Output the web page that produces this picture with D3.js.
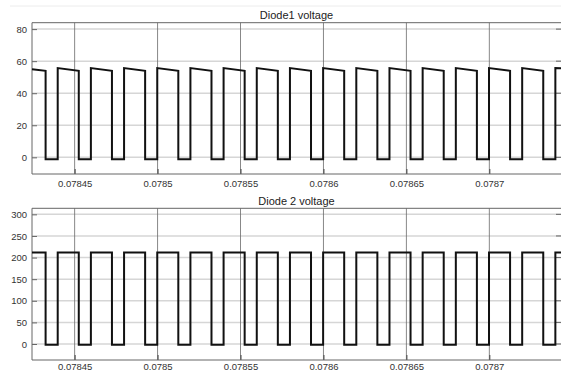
<!DOCTYPE html>
<html>
<head>
<meta charset="utf-8">
<script src="https://cdn.jsdelivr.net/npm/d3@7"></script>
<style>
html,body{margin:0;padding:0;background:#fff;}
svg{display:block;font-family:"Liberation Sans",Arial,sans-serif;}
</style>
</head>
<body>
<svg id="chart" width="561" height="372"></svg>
<script>
// ---- data ----
const xDomain = [0.0784243, 0.0787432];
const xTicks = [0.07845, 0.0785, 0.07855, 0.0786, 0.07865, 0.0787];
const xTickLabels = ["0.07845", "0.0785", "0.07855", "0.0786", "0.07865", "0.0787"];

// switching edges (s)
const fallTimes = [0.0784325, 0.0784525, 0.0784725, 0.0784925, 0.0785125, 0.0785325, 0.0785525, 0.0785725,
                   0.0785925, 0.0786125, 0.0786325, 0.0786525, 0.0786725, 0.0786925, 0.0787125, 0.0787325];
const riseTimes = [0.0784398, 0.0784598, 0.0784798, 0.0784998, 0.0785198, 0.0785398, 0.0785598, 0.0785798,
                   0.0785998, 0.0786198, 0.0786398, 0.0786598, 0.0786798, 0.0786998, 0.0787198, 0.0787398];

// Diode 1 levels: [value at left edge, value just after turn-off (rise), value just before turn-on (fall), low level, value at right edge]
const diode1Levels = [55.0, 55.7, 54.0, -1.2, 55.6];
const diode1YDomain = [-10.4, 84];
const diode1YTicks = [0, 20, 40, 60, 80];

// Diode 2 levels
const diode2Levels = [212, 212, 212, -1.5, 212];
const diode2YDomain = [-37, 314];
const diode2YTicks = [0, 50, 100, 150, 200, 250, 300];

const titles = ["Diode1 voltage", "Diode 2 voltage"];

// ---- layout ----
const svg = d3.select("#chart");
const left = 32, right = 561;
const panels = [
  {top: 22.7, bottom: 174, levels: diode1Levels, yDomain: diode1YDomain, yTicks: diode1YTicks, title: titles[0], titleY: 19, xLabelY: 187},
  {top: 208.3, bottom: 360, levels: diode2Levels, yDomain: diode2YDomain, yTicks: diode2YTicks, title: titles[1], titleY: 205, xLabelY: 370.3}
];

// faint figure line at top
svg.append("line").attr("x1", 10).attr("x2", 561).attr("y1", 6).attr("y2", 6)
   .attr("stroke", "#ececec").attr("stroke-width", 1);

const x = d3.scaleLinear().domain(xDomain).range([left, right]);

function buildPoints(levels) {
  const [vStart, vPeak, vSag, vLow, vEnd] = levels;
  const pts = [[xDomain[0], vStart]];
  for (let i = 0; i < fallTimes.length; i++) {
    pts.push([fallTimes[i], vSag]);
    pts.push([fallTimes[i], vLow]);
    pts.push([riseTimes[i], vLow]);
    pts.push([riseTimes[i], vPeak]);
  }
  pts.push([xDomain[1], vEnd]);
  return pts;
}

panels.forEach(p => {
  const y = d3.scaleLinear().domain(p.yDomain).range([p.bottom, p.top]);
  const g = svg.append("g");

  g.append("rect").attr("x", left).attr("y", p.top).attr("width", right - left).attr("height", p.bottom - p.top)
    .attr("fill", "#fff");

  // horizontal grid
  g.selectAll("line.hg").data(p.yTicks).join("line").attr("class", "hg")
    .attr("x1", left).attr("x2", right)
    .attr("y1", d => y(d)).attr("y2", d => y(d))
    .attr("stroke", "#d6d6d6").attr("stroke-width", 1.5);

  // vertical grid
  g.selectAll("line.vg").data(xTicks).join("line").attr("class", "vg")
    .attr("x1", d => x(d)).attr("x2", d => x(d))
    .attr("y1", p.top).attr("y2", p.bottom)
    .attr("stroke", "#6a6a6a").attr("stroke-width", 0.8);

  // left axis
  const ya = g.append("g").attr("transform", `translate(${left},0)`)
    .call(d3.axisLeft(y).tickValues(p.yTicks).tickSize(-5).tickPadding(5).tickFormat(d3.format("d")));
  ya.select(".domain").remove();
  ya.selectAll(".tick line").attr("stroke", "#666").attr("stroke-width", 1);
  ya.selectAll(".tick text").attr("fill", "#333").style("font-size", "9.5px")
    .style("font-family", '"Liberation Sans",Arial,sans-serif');

  // right-side ticks
  g.selectAll("line.rt").data(p.yTicks).join("line").attr("class", "rt")
    .attr("x1", right - 5).attr("x2", right)
    .attr("y1", d => y(d)).attr("y2", d => y(d))
    .attr("stroke", "#666").attr("stroke-width", 1);

  // bottom axis
  const xa = g.append("g").attr("transform", `translate(0,${p.bottom})`)
    .call(d3.axisBottom(x).tickValues(xTicks).tickSize(-5).tickPadding(0)
      .tickFormat((d, i) => xTickLabels[i]));
  xa.select(".domain").remove();
  xa.selectAll(".tick line").attr("stroke", "#444").attr("stroke-width", 1);
  xa.selectAll(".tick text").attr("fill", "#333").style("font-size", "9.5px")
    .style("font-family", '"Liberation Sans",Arial,sans-serif')
    .attr("dy", null).attr("y", p.xLabelY - p.bottom);

  // box
  g.append("path")
    .attr("d", `M${right},${p.top}H${left}V${p.bottom}H${right}`)
    .attr("fill", "none").attr("stroke", "#666").attr("stroke-width", 1);

  // waveform
  const line = d3.line().x(d => x(d[0])).y(d => y(d[1]));
  g.append("path").datum(buildPoints(p.levels))
    .attr("d", line).attr("fill", "none").attr("stroke", "#111")
    .attr("stroke-width", 2).attr("stroke-linejoin", "miter");

  // title
  g.append("text").attr("x", (left + right) / 2).attr("y", p.titleY)
    .attr("text-anchor", "middle").attr("fill", "#222")
    .style("font-size", "11px").text(p.title);
});
</script>
</body>
</html>
